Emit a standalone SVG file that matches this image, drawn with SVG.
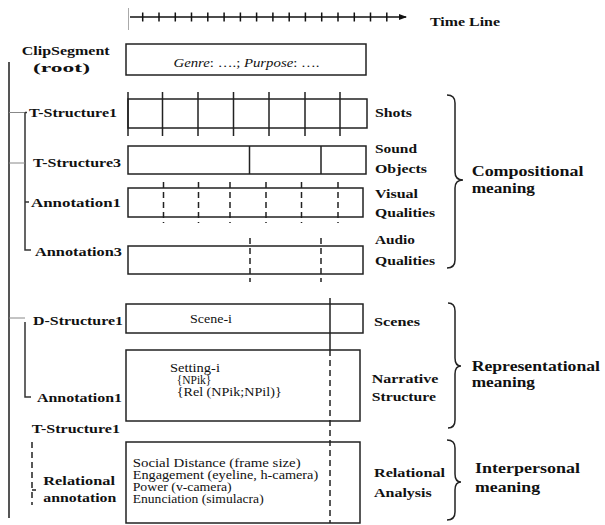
<svg xmlns="http://www.w3.org/2000/svg" width="605" height="525" viewBox="0 0 605 525">
<style>
.box{fill:none;stroke:#222;stroke-width:1.5}
.div{stroke:#222;stroke-width:1.5}
.dash{stroke:#222;stroke-width:1.5;stroke-dasharray:6,4}
.conn{fill:none;stroke:#333;stroke-width:1.5}
.thin{fill:none;stroke:#888;stroke-width:1}
.brace{fill:none;stroke:#222;stroke-width:1.5}
.b{font-family:"Liberation Serif","Times New Roman",serif;font-weight:bold;font-size:13px;fill:#111}
.big{font-family:"Liberation Serif","Times New Roman",serif;font-weight:bold;font-size:15.5px;fill:#111}
.r{font-family:"Liberation Serif","Times New Roman",serif;font-size:11.5px;fill:#111}
.i{font-style:italic}
</style>
<defs>
<marker id="arr" markerWidth="8" markerHeight="6" refX="7" refY="3" orient="auto" markerUnits="userSpaceOnUse">
<path d="M0,0 L8,3 L0,6 Z" fill="#111"/>
</marker>
</defs>
<rect width="605" height="525" fill="#fff"/>

<g id="timeline">
<line x1="128.5" y1="8" x2="128.5" y2="30" stroke="#aaa" stroke-width="1"/>
<line x1="130" y1="17" x2="406" y2="17" stroke="#111" stroke-width="1.5" marker-end="url(#arr)"/>
<path d="M142.7,12.5v9M159,12.5v9M175.3,12.5v9M191.5,12.5v9M207.8,12.5v9M224.1,12.5v9M240.4,12.5v9M256.6,12.5v9M272.9,12.5v9M289.2,12.5v9M305.4,12.5v9M321.7,12.5v9M338,12.5v9M354.3,12.5v9M370.5,12.5v9M386.8,12.5v9" stroke="#111" stroke-width="1.5"/>
<text class="b" x="430" y="26" textLength="70" lengthAdjust="spacingAndGlyphs">Time Line</text>
</g>

<g id="connectors">
<line x1="9" y1="62" x2="9" y2="518" stroke="#555" stroke-width="2"/>
<path class="thin" d="M9,112.5H25"/>
<path class="conn" d="M25,112.5V250H31M25,202H29M25,112.5H27"/>
<path class="thin" d="M9,163H25"/>
<path class="thin" d="M9,318H25"/>
<path class="conn" d="M25,322V397H31"/>
<path class="dash" d="M32,442V505M32,490H36" stroke-dasharray="5,4"/>
<path class="div" d="M330,298V350"/>
<path class="dash" d="M330,350V523"/>
</g>

<g id="clipsegment">
<text class="b" x="21.7" y="55" textLength="88" lengthAdjust="spacingAndGlyphs">ClipSegment</text>
<text class="b" x="33" y="72" textLength="57" lengthAdjust="spacingAndGlyphs">(root)</text>
<rect class="box" x="126" y="44" width="240" height="31"/>
<text class="r" x="173.5" y="67" font-size="13" textLength="146" lengthAdjust="spacingAndGlyphs"><tspan class="i">Genre</tspan>: ….;  <tspan class="i">Purpose</tspan>: ….</text>
</g>

<g id="tstructure1">
<text class="b" x="29" y="117" textLength="88" lengthAdjust="spacingAndGlyphs">T-Structure1</text>
<rect class="box" x="128" y="99" width="239" height="29"/>
<path class="div" d="M128,92V136M162.5,92V136M198,92V136M233.5,92V136M269,92V136M305,92V136M340,92V136"/>
<text class="b" x="375" y="117" textLength="37" lengthAdjust="spacingAndGlyphs">Shots</text>
</g>

<g id="tstructure3">
<text class="b" x="33" y="167" textLength="88" lengthAdjust="spacingAndGlyphs">T-Structure3</text>
<rect class="box" x="128" y="146" width="238" height="28"/>
<path class="div" d="M249.5,146V174M321,146V174"/>
<text class="b" x="375" y="153" textLength="42" lengthAdjust="spacingAndGlyphs">Sound</text>
<text class="b" x="375" y="172.5" textLength="52" lengthAdjust="spacingAndGlyphs">Objects</text>
</g>

<g id="annotation1">
<text class="b" x="31" y="207" textLength="90" lengthAdjust="spacingAndGlyphs">Annotation1</text>
<rect class="box" x="128" y="188" width="235" height="29"/>
<path class="dash" d="M163.5,182V223M198.5,182V223M230,182V223M266,182V223M301.5,182V223M338,182V223"/>
<text class="b" x="375" y="197.5" textLength="43" lengthAdjust="spacingAndGlyphs">Visual</text>
<text class="b" x="375" y="216.5" textLength="60" lengthAdjust="spacingAndGlyphs">Qualities</text>
</g>

<g id="annotation3">
<text class="b" x="35" y="256" textLength="87" lengthAdjust="spacingAndGlyphs">Annotation3</text>
<rect class="box" x="128" y="246" width="235" height="28"/>
<path class="dash" d="M250,238V282M321,238V282"/>
<text class="b" x="375" y="243.5" textLength="40" lengthAdjust="spacingAndGlyphs">Audio</text>
<text class="b" x="375" y="265" textLength="60" lengthAdjust="spacingAndGlyphs">Qualities</text>
</g>

<g id="compositional">
<path class="brace" d="M447,95Q455,95 455,103V172Q455,180 463,180Q455,180 455,188V260Q455,268 447,268"/>
<text class="big" x="471.7" y="176" textLength="111.7" lengthAdjust="spacingAndGlyphs">Compositional</text>
<text class="big" x="471.7" y="192.5" textLength="63.3" lengthAdjust="spacingAndGlyphs">meaning</text>
</g>

<g id="dstructure1">
<text class="b" x="33" y="325" textLength="90" lengthAdjust="spacingAndGlyphs">D-Structure1</text>
<rect class="box" x="126" y="304" width="237" height="29"/>
<text class="r" x="190" y="323" font-size="12" textLength="42" lengthAdjust="spacingAndGlyphs">Scene-i</text>
<text class="b" x="374" y="326" textLength="46" lengthAdjust="spacingAndGlyphs">Scenes</text>
</g>

<g id="narrative">
<text class="b" x="37" y="401.5" textLength="85" lengthAdjust="spacingAndGlyphs">Annotation1</text>
<rect class="box" x="126" y="350" width="234" height="71"/>
<text class="r" x="170" y="371.5" textLength="50" lengthAdjust="spacingAndGlyphs">Setting-i</text>
<text class="r" x="176.7" y="383.8">{NPik}</text>
<text class="r" x="176.7" y="396.2" textLength="105" lengthAdjust="spacingAndGlyphs">{Rel (NPik;NPil)}</text>
<text class="b" x="371.7" y="382.7" textLength="66.7" lengthAdjust="spacingAndGlyphs">Narrative</text>
<text class="b" x="371.7" y="401" textLength="64.3" lengthAdjust="spacingAndGlyphs">Structure</text>
</g>

<g id="representational">
<path class="brace" d="M448,303Q455,303 455,311V358Q455,366 461,366Q455,366 455,374V420Q455,428 448,428"/>
<text class="big" x="471.7" y="370.5" textLength="128.3" lengthAdjust="spacingAndGlyphs">Representational</text>
<text class="big" x="471.7" y="387" textLength="63.3" lengthAdjust="spacingAndGlyphs">meaning</text>
</g>

<g id="relational">
<text class="b" x="31.7" y="433" textLength="88.3" lengthAdjust="spacingAndGlyphs">T-Structure1</text>
<text class="b" x="43.3" y="485" textLength="71.7" lengthAdjust="spacingAndGlyphs">Relational</text>
<text class="b" x="43.3" y="501.7" textLength="73" lengthAdjust="spacingAndGlyphs">annotation</text>
<rect class="box" x="126" y="442" width="234" height="81"/>
<text class="r" x="132.7" y="466.5" textLength="168" lengthAdjust="spacingAndGlyphs">Social Distance (frame size)</text>
<text class="r" x="132.7" y="478.8" textLength="185.5" lengthAdjust="spacingAndGlyphs">Engagement (eyeline, h-camera)</text>
<text class="r" x="132.7" y="491" textLength="99" lengthAdjust="spacingAndGlyphs">Power (v-camera)</text>
<text class="r" x="132.7" y="503.3" textLength="131" lengthAdjust="spacingAndGlyphs">Enunciation (simulacra)</text>
<text class="b" x="374" y="476.7" textLength="71" lengthAdjust="spacingAndGlyphs">Relational</text>
<text class="b" x="374" y="496.7" textLength="57.7" lengthAdjust="spacingAndGlyphs">Analysis</text>
</g>

<g id="interpersonal">
<path class="brace" d="M447,440Q455,440 455,448V474Q455,482 461,482Q455,482 455,490V512Q455,520 447,520"/>
<text class="big" x="475" y="473.3" textLength="105" lengthAdjust="spacingAndGlyphs">Interpersonal</text>
<text class="big" x="475" y="491.7" textLength="65" lengthAdjust="spacingAndGlyphs">meaning</text>
</g>
</svg>
